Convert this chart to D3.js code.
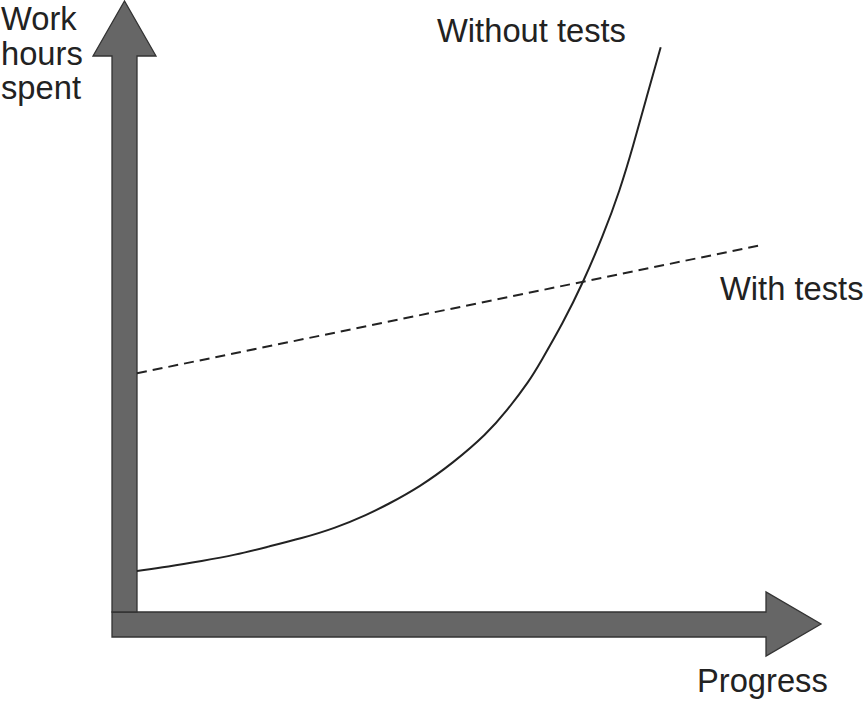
<!DOCTYPE html>
<html>
<head>
<meta charset="utf-8">
<script src="https://cdn.jsdelivr.net/npm/d3@7"></script>
<style>
html,body{margin:0;padding:0;background:#fff;}
svg{display:block;}
text{font-family:"Liberation Sans",Arial,sans-serif;fill:#222;}
</style>
</head>
<body>
<svg id="chart" width="866" height="701"></svg>
<script>
// Progress (x) and work hours (y) in arbitrary units
const progressWithout = [0, 31, 64.7, 98, 131, 164.7, 198, 231, 249.7, 283, 316, 349.7, 369.7, 393, 403, 426, 445.7, 466, 483, 496, 509.7, 523.7];
const hoursWithout    = [41, 45.3, 51, 57, 65.3, 73.7, 83.7, 97.7, 107, 125.3, 149, 178, 201, 232, 249, 289, 328.7, 376, 422, 465.3, 515.3, 564.7];
const progressWith = [0, 624.7];
const hoursWith    = [238.7, 367];
const labels = {yTitle: ["Work", "hours", "spent"], xTitle: "Progress", without: "Without tests", with: "With tests"};

const svg = d3.select("#chart");
const x = d3.scaleLinear().domain([0, 700]).range([137, 837]);
const y = d3.scaleLinear().domain([0, 600]).range([612, 12]);

const axisFill = "#666666", axisStroke = "#333333";
const x0 = x(0), y0 = y(0);
const vArrow = [[x0-25, y0], [x0-25, 56], [x0-44, 56], [x0-12.5, 1], [x0+19, 56], [x0, 56], [x0, y0]];
const hArrow = [[x0-25, y0], [766, y0], [766, 592], [821, 624], [766, 656], [766, y0+25], [x0-25, y0+25]];

svg.append("polygon").attr("points", hArrow.map(p => p.join(",")).join(" "))
  .attr("fill", axisFill).attr("stroke", axisStroke).attr("stroke-width", 1.3);
svg.append("polygon").attr("points", vArrow.map(p => p.join(",")).join(" "))
  .attr("fill", axisFill).attr("stroke", axisStroke).attr("stroke-width", 1.3);

const line = d3.line().x(d => x(d[0])).y(d => y(d[1])).curve(d3.curveBasis);

svg.append("path")
  .datum(progressWithout.map((p, i) => [p, hoursWithout[i]]))
  .attr("d", line).attr("fill", "none").attr("stroke", "#222").attr("stroke-width", 2);

svg.append("path")
  .datum(progressWith.map((p, i) => [p, hoursWith[i]]))
  .attr("d", d3.line().x(d => x(d[0])).y(d => y(d[1])))
  .attr("fill", "none").attr("stroke", "#222").attr("stroke-width", 2)
  .attr("stroke-dasharray", "10,6");

const fs = 32.7;
labels.yTitle.forEach((t, i) => {
  svg.append("text").attr("x", 1).attr("y", 30 + i * 34.5).attr("font-size", fs).text(t);
});
svg.append("text").attr("x", 437).attr("y", 42).attr("font-size", fs).text(labels.without);
svg.append("text").attr("x", 720).attr("y", 300).attr("font-size", fs).text(labels.with);
svg.append("text").attr("x", 697).attr("y", 692).attr("font-size", fs).text(labels.xTitle);
</script>
</body>
</html>
